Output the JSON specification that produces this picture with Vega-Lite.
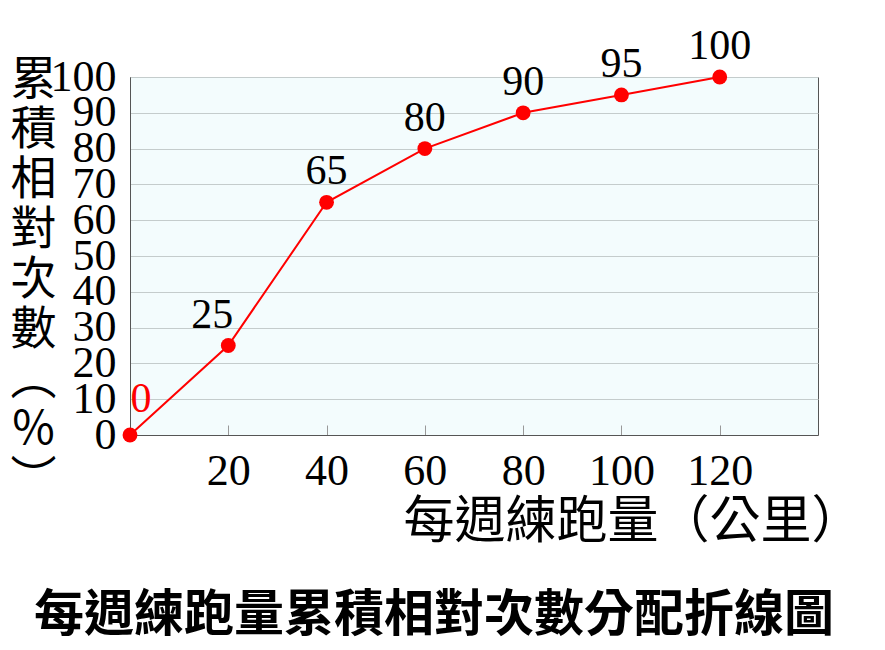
{
  "$schema": "https://vega.github.io/schema/vega-lite/v6.json",
  "width": 688,
  "height": 358,
  "autosize": {"type": "none"},
  "padding": {"left": 130, "top": 77, "right": 67, "bottom": 215},
  "background": "white",
  "config": {
    "view": {"fill": "#f3fcfd", "stroke": "#555555", "strokeWidth": 1},
    "font": "Liberation Serif"
  },
  "title": {
    "text": "每週練跑量累積相對次數分配折線圖",
    "orient": "bottom",
    "anchor": "middle",
    "font": "Noto Sans CJK TC",
    "fontWeight": "bold",
    "fontSize": 50,
    "color": "black",
    "offset": 44,
    "dx": -40
  },
  "data": {
    "values": [
      {"km": 0, "pct": 0},
      {"km": 20, "pct": 25},
      {"km": 40, "pct": 65},
      {"km": 60, "pct": 80},
      {"km": 80, "pct": 90},
      {"km": 100, "pct": 95},
      {"km": 120, "pct": 100}
    ]
  },
  "encoding": {
    "x": {
      "field": "km",
      "type": "quantitative",
      "scale": {"domain": [0, 140], "nice": false},
      "axis": {
        "values": [20, 40, 60, 80, 100, 120],
        "grid": false,
        "tickSize": -10,
        "tickColor": "#999999",
        "domainColor": "#555555",
        "labelFont": "Liberation Serif",
        "labelFontSize": 44,
        "labelColor": "black",
        "labelPadding": 24,
        "labelFlush": false,
        "labelOverlap": false,
        "title": "每週練跑量（公里）",
        "titleFont": "Noto Sans CJK TC",
        "titleFontSize": 51,
        "titleFontWeight": "normal",
        "titleColor": "black",
        "titleAlign": "left",
        "titleAnchor": "start",
        "titleBaseline": "middle",
        "titleX": 273,
        "titleY": 87
      }
    },
    "y": {
      "field": "pct",
      "type": "quantitative",
      "scale": {"domain": [0, 100], "nice": false},
      "axis": {
        "values": [0, 10, 20, 30, 40, 50, 60, 70, 80, 90, 100],
        "grid": true,
        "gridColor": "#c4cccc",
        "ticks": false,
        "domainColor": "#555555",
        "labelFont": "Liberation Serif",
        "labelFontSize": 44,
        "labelColor": "black",
        "labelPadding": 14,
        "labelBaseline": "middle",
        "labelFlush": false,
        "labelOverlap": false,
        "title": ["累", "積", "相", "對", "次", "數", "︵", "％", "︶"],
        "titleFont": "Noto Sans CJK TC",
        "titleFontSize": 46,
        "titleFontWeight": "normal",
        "titleColor": "black",
        "titleAngle": 0,
        "titleAlign": "center",
        "titleBaseline": "top",
        "titleLineHeight": 50,
        "titleX": -97,
        "titleY": -20
      }
    }
  },
  "layer": [
    {"mark": {"type": "line", "color": "#ff0000", "strokeWidth": 2}},
    {"mark": {"type": "circle", "color": "#ff0000", "size": 220, "opacity": 1}},
    {
      "transform": [{"filter": "datum.km >= 40"}],
      "mark": {"type": "text", "font": "Liberation Serif", "fontSize": 42, "dy": -31, "color": "black"},
      "encoding": {"text": {"field": "pct", "type": "quantitative"}}
    },
    {
      "transform": [{"filter": "datum.km == 20"}],
      "mark": {"type": "text", "font": "Liberation Serif", "fontSize": 42, "dx": -16, "dy": -31, "color": "black"},
      "encoding": {"text": {"field": "pct", "type": "quantitative"}}
    },
    {
      "transform": [{"filter": "datum.km == 0"}],
      "mark": {"type": "text", "font": "Liberation Serif", "fontSize": 42, "dx": 11, "dy": -36, "color": "#ff0000"},
      "encoding": {"text": {"field": "pct", "type": "quantitative"}}
    }
  ]
}
